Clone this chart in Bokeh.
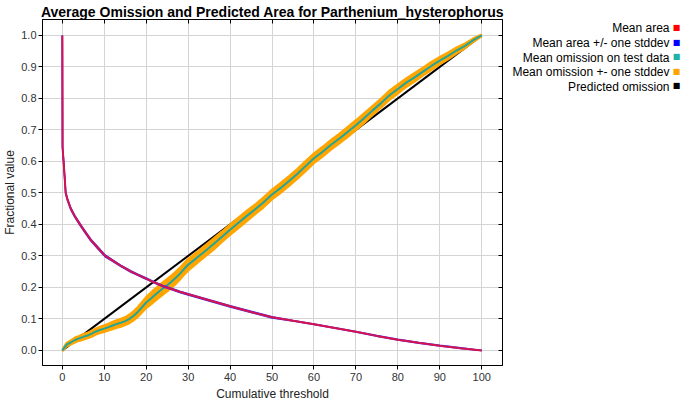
from bokeh.plotting import figure
from bokeh.layouts import row
from bokeh.models import Range1d, LinearAxis, FixedTicker, NumeralTickFormatter, Label, Title
from bokeh.embed import file_html
from bokeh.resources import INLINE

# ---------------- data ----------------
threshold_area = [0, 0.05, 0.3, 0.8, 1.2, 2, 3, 4.2, 5.5, 6.8, 8.5, 10.2, 12, 14, 16.4, 18,
                  20, 21.7, 24, 26, 28, 30, 35, 40, 45, 50, 55, 60, 65, 70, 75, 80, 85, 90, 95, 100]
mean_area = [1.0, 0.645, 0.6, 0.5, 0.48, 0.45, 0.425, 0.4, 0.375, 0.35, 0.325, 0.3, 0.285, 0.268, 0.25, 0.24,
             0.228, 0.217, 0.204, 0.195, 0.186, 0.178, 0.159, 0.14, 0.122, 0.105, 0.094, 0.083, 0.071, 0.059,
             0.046, 0.034, 0.024, 0.015, 0.007, 0.0]
area_sd = [0.0, 0.004, 0.004, 0.004, 0.003, 0.003, 0.003, 0.003, 0.003, 0.003, 0.003, 0.003, 0.002, 0.002,
           0.002, 0.002, 0.002, 0.002, 0.002, 0.002, 0.002, 0.002, 0.002, 0.002, 0.002, 0.002, 0.001, 0.001,
           0.001, 0.001, 0.001, 0.001, 0.001, 0.001, 0.001, 0.0]

threshold_omission = [0, 1, 2, 3, 4, 5, 6, 7, 8, 9, 10, 11, 12, 13, 14, 15, 16, 17, 18, 19, 20, 21, 22, 23,
                      24, 25, 26, 27, 28, 29, 30, 32, 34, 36, 38, 40, 42, 44, 46, 48, 50, 52, 54, 56, 58, 60,
                      62, 64, 66, 68, 70, 72, 74, 76, 78, 80, 82, 84, 86, 88, 90, 92, 94, 96, 98, 100]
mean_omission = [0.0, 0.018, 0.025, 0.033, 0.038, 0.043, 0.047, 0.053, 0.06, 0.065, 0.069, 0.074, 0.079,
                 0.084, 0.088, 0.093, 0.1, 0.11, 0.122, 0.137, 0.152, 0.163, 0.175, 0.186, 0.197, 0.207,
                 0.218, 0.23, 0.243, 0.258, 0.272,
                 0.293, 0.315, 0.337, 0.36, 0.383, 0.405, 0.427, 0.448, 0.47, 0.495, 0.515, 0.537, 0.56,
                 0.585, 0.61, 0.63, 0.652, 0.672, 0.693, 0.715, 0.738, 0.762, 0.785, 0.81, 0.83, 0.85,
                 0.867, 0.885, 0.903, 0.92, 0.935, 0.952, 0.967, 0.985, 1.0]
omission_sd = [0.003, 0.006, 0.007, 0.008, 0.008, 0.009, 0.009, 0.01, 0.01, 0.01, 0.011, 0.011, 0.012,
               0.012, 0.013, 0.013, 0.014, 0.015, 0.016, 0.017, 0.018, 0.019, 0.02, 0.02, 0.02, 0.02,
               0.02, 0.02, 0.019, 0.019, 0.019,
               0.018, 0.018, 0.018, 0.017, 0.017, 0.017, 0.017, 0.016, 0.016, 0.016, 0.016, 0.016, 0.016,
               0.016, 0.016, 0.016, 0.016, 0.016, 0.016, 0.016, 0.016, 0.015, 0.015, 0.015, 0.015, 0.014,
               0.014, 0.013, 0.013, 0.012, 0.011, 0.01, 0.008, 0.006, 0.003]

predicted_x = [0, 100]
predicted_omission = [0, 1]

x_ticks = [0, 10, 20, 30, 40, 50, 60, 70, 80, 90, 100]
y_ticks = [0.0, 0.1, 0.2, 0.3, 0.4, 0.5, 0.6, 0.7, 0.8, 0.9, 1.0]

legend_labels = ["Mean area", "Mean area +/- one stddev", "Mean omission on test data",
                 "Mean omission +- one stddev", "Predicted omission"]
legend_colors = ["#ff0000", "#0000ff", "#20b2aa", "#ffa500", "#000000"]

title_text = "Average Omission and Predicted Area for Parthenium_hysterophorus"
x_label = "Cumulative threshold"
y_label = "Fractional value"

# ---------------- layout ----------------
FONT = "Liberation Sans"
H = 403
MAIN_W = 505
LEG_W = 685 - MAIN_W
FRAME_L, FRAME_R, FRAME_T, FRAME_B = 38, 502, 19, 367
XR = (-4.73, 104.96)
YR = (-0.048, 1.0505)

p = figure(width=MAIN_W, height=H, output_backend="svg", toolbar_location=None,
           x_range=Range1d(*XR), y_range=Range1d(*YR),
           min_border_left=FRAME_L, min_border_right=MAIN_W - FRAME_R,
           min_border_top=FRAME_T, min_border_bottom=H - FRAME_B)
p.title = Title(text=title_text, align="center", text_font=FONT, text_font_size="14px",
                text_font_style="bold", text_color="black", standoff=0, offset=0)
p.background_fill_color = "white"
p.border_fill_color = "white"
p.outline_line_color = "black"
p.outline_line_width = 1

for ax, tk in ((p.xaxis, x_ticks), (p.yaxis, y_ticks)):
    ax.ticker = FixedTicker(ticks=tk)
    ax.major_tick_out = 4
    ax.major_tick_in = 0
    ax.minor_tick_out = 0
    ax.minor_tick_in = 0
    ax.axis_line_color = "black"
    ax.major_tick_line_color = "black"
    ax.major_label_text_font = FONT
    ax.major_label_text_font_size = "11px"
    ax.major_label_text_color = "#333333"
    ax.axis_label_text_font = FONT
    ax.axis_label_text_font_size = "12px"
    ax.axis_label_text_font_style = "normal"
    ax.axis_label_text_color = "#222222"
p.xaxis.major_label_standoff = 3
p.xaxis.axis_label_standoff = 3
p.yaxis.major_label_standoff = 2
p.yaxis.axis_label_standoff = 1
p.xaxis.axis_label = x_label
p.yaxis.axis_label = y_label
p.yaxis.formatter = NumeralTickFormatter(format="0.0")

for loc, tk in (("above", x_ticks), ("right", y_ticks)):
    ax = LinearAxis(ticker=FixedTicker(ticks=tk), major_tick_in=4, major_tick_out=0,
                    minor_tick_in=0, minor_tick_out=0, major_label_text_font_size="1px",
                    major_label_text_color=None, major_label_standoff=0,
                    axis_line_color="black", major_tick_line_color="black")
    p.add_layout(ax, loc)

p.xgrid.ticker = FixedTicker(ticks=x_ticks)
p.ygrid.ticker = FixedTicker(ticks=y_ticks)
p.xgrid.grid_line_color = "#d4d4d4"
p.ygrid.grid_line_color = "#d4d4d4"

# ---------------- series ----------------
p.line(predicted_x, predicted_omission, line_color="black", line_width=2)

om_lo = [m - s for m, s in zip(mean_omission, omission_sd)]
om_hi = [m + s for m, s in zip(mean_omission, omission_sd)]
p.varea(x=threshold_omission, y1=om_lo, y2=om_hi, fill_color="#ffa500")
p.line(threshold_omission, om_lo, line_color="#ffa500", line_width=2)
p.line(threshold_omission, om_hi, line_color="#ffa500", line_width=2)
p.line(threshold_omission, mean_omission, line_color="#22a598", line_width=2)

ar_lo = [m - s for m, s in zip(mean_area, area_sd)]
ar_hi = [m + s for m, s in zip(mean_area, area_sd)]
p.line(threshold_area, ar_lo, line_color="#3030ff", line_width=1.5)
p.line(threshold_area, ar_hi, line_color="#3030ff", line_width=1.5)
p.line(threshold_area, mean_area, line_color="#d8124e", line_width=2)

# ---------------- legend panel (its coordinates equal page pixels) ----------------
leg = figure(width=LEG_W, height=H, output_backend="svg", toolbar_location=None,
             x_range=Range1d(MAIN_W, MAIN_W + LEG_W), y_range=Range1d(FRAME_B, FRAME_T),
             x_axis_location=None, y_axis_location=None,
             min_border_left=0, min_border_right=0,
             min_border_top=FRAME_T, min_border_bottom=H - FRAME_B)
leg.outline_line_color = None
leg.xgrid.visible = False
leg.ygrid.visible = False
leg.background_fill_color = "white"
leg.border_fill_color = "white"

for i, (lab, col) in enumerate(zip(legend_labels, legend_colors)):
    yy = 28 + i * 14.7
    leg.add_layout(Label(x=669, y=yy, text=lab, text_align="right", text_baseline="middle",
                         text_font=FONT, text_font_size="12px", text_color="black"))
    leg.add_layout(Label(x=676, y=yy - 1, text="\u25a0", text_align="center", text_baseline="middle",
                         text_font="DejaVu Sans", text_font_size="8px", text_color=col))

layout = row(p, leg)
open("out.html", "w").write(file_html(layout, INLINE))
